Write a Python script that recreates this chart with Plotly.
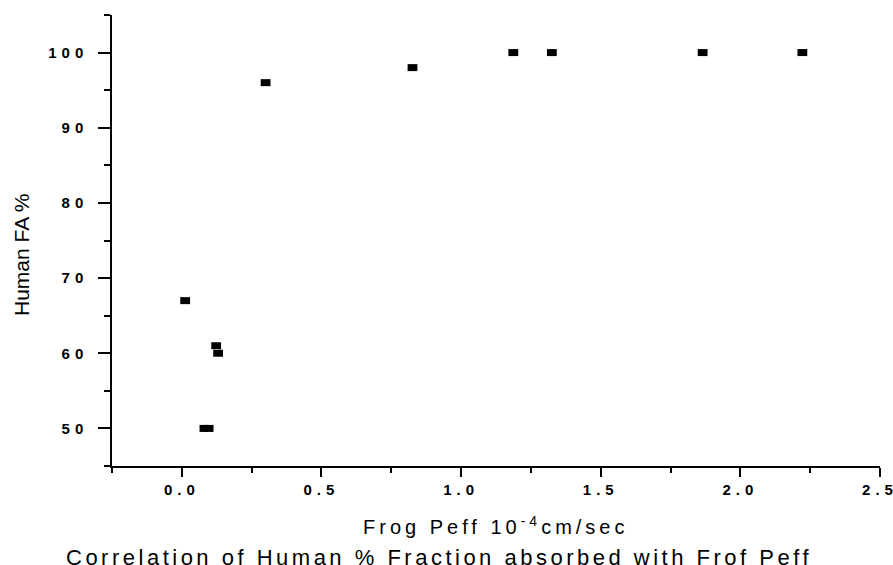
import plotly.graph_objects as go

# Data
frog_peff = [0.012, 0.123, 0.130, 0.081, 0.096, 0.30, 0.826, 1.187, 1.325, 1.865, 2.222]
human_fa = [67, 61, 60, 50, 50, 96, 98, 100, 100, 100, 100]

x_ticks = [0.0, 0.5, 1.0, 1.5, 2.0, 2.5]
x_tick_text = ["0.0", "0.5", "1.0", "1.5", "2.0", "2.5"]
y_ticks = [50, 60, 70, 80, 90, 100]
y_tick_text = ["50", "60", "70", "80", "90", "100"]

x_title = "Frog Peff 10<sup>-4</sup>cm/sec"
y_title = "Human FA %"
caption = "Correlation of Human % Fraction absorbed with Frof Peff"

FONT = "Liberation Sans, Arial, sans-serif"


def spaced(t, ls):
    return f"<span style='letter-spacing:{ls}px'>{t}</span>"


fig = go.Figure()
fig.add_trace(go.Scatter(
    x=frog_peff, y=human_fa, mode="markers",
    marker=dict(symbol="line-ew", size=7, color="black",
                line=dict(color="black", width=7)),
    showlegend=False, cliponaxis=False,
))

axis_common = dict(
    showline=True, linecolor="black", linewidth=1.5,
    showgrid=False, zeroline=False, mirror=False,
    ticks="outside", tickcolor="black", tickwidth=1.5,
    tickfont=dict(family=FONT, size=15, color="black", weight="bold"),
    ticklabeloverflow="allow", automargin=False,
)

fig.update_layout(
    width=893, height=565,
    margin=dict(l=112, r=13, t=15, b=99, autoexpand=False),
    paper_bgcolor="white", plot_bgcolor="white",
    xaxis=dict(
        range=[-0.25, 2.5], tickmode="array", tickvals=x_ticks,
        ticktext=[spaced(t, 5) for t in x_tick_text], ticklen=9,
        minor=dict(dtick=0.25, tick0=0, ticks="outside", ticklen=5,
                   tickcolor="black", tickwidth=1.5, showgrid=False),
        ticklabelstandoff=0,
        **axis_common,
    ),
    yaxis=dict(
        range=[45, 105], tickmode="array", tickvals=y_ticks,
        ticktext=[spaced(t, 5) for t in y_tick_text], ticklen=12,
        minor=dict(dtick=5, tick0=45, ticks="outside", ticklen=6,
                   tickcolor="black", tickwidth=1.5, showgrid=False),
        ticklabelstandoff=7,
        **axis_common,
    ),
    annotations=[
        dict(text=spaced(x_title, 4), xref="paper", yref="paper",
             x=0.5, y=-0.133, xanchor="center", yanchor="middle",
             showarrow=False, font=dict(family=FONT, size=20, color="black")),
        dict(text=spaced(caption, 3.5), xref="paper", yref="paper",
             x=0.4264, y=-0.2018, xanchor="center", yanchor="middle",
             showarrow=False, font=dict(family=FONT, size=22, color="black")),
        dict(text=y_title, xref="paper", yref="paper",
             x=-0.1185, y=0.47, xanchor="center", yanchor="middle",
             textangle=-90, showarrow=False,
             font=dict(family=FONT, size=21, color="black")),
    ],
)

fig.write_html("out.html",
               config={"displayModeBar": False},
               post_script="document.body.style.margin='0';document.body.style.overflow='hidden';")
